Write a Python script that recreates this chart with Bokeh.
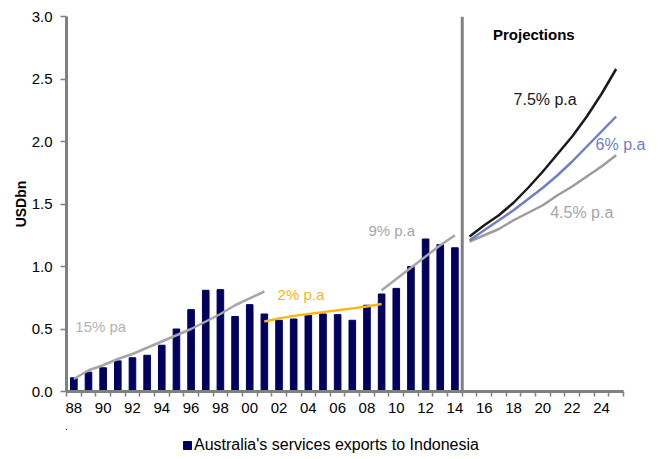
from bokeh.plotting import figure
from bokeh.layouts import column
from bokeh.models import (FixedTicker, NumeralTickFormatter, Span, Legend,
                          LegendItem, Label)
from bokeh.embed import file_html
from bokeh.resources import INLINE

# Australia's services exports to Indonesia, USD bn
years = list(range(1988, 2015))
exports = [0.11, 0.155, 0.19, 0.245, 0.27, 0.29, 0.37, 0.50, 0.655, 0.81,
           0.815, 0.60, 0.695, 0.62, 0.57, 0.58, 0.61, 0.62, 0.615, 0.57,
           0.69, 0.78, 0.825, 1.00, 1.22, 1.175, 1.15]

# Historical trend lines
trend15_years = list(range(1988, 2002))
trend15 = [0.10, 0.17, 0.21, 0.26, 0.30, 0.35, 0.40, 0.45, 0.50, 0.56,
           0.62, 0.69, 0.745, 0.80]
trend2_years = list(range(2001, 2010))
trend2 = [0.56, 0.585, 0.605, 0.62, 0.635, 0.65, 0.665, 0.68, 0.70]
trend9_years = list(range(2009, 2015))
trend9 = [0.81, 0.90, 0.99, 1.08, 1.17, 1.25]

# Projections
proj_years = list(range(2015, 2026))
proj_75 = [1.24, 1.33, 1.41, 1.51, 1.63, 1.76, 1.90, 2.04, 2.20, 2.38, 2.58]
proj_6 = [1.21, 1.29, 1.37, 1.45, 1.54, 1.63, 1.73, 1.84, 1.96, 2.08, 2.20]
proj_45 = [1.20, 1.25, 1.30, 1.37, 1.43, 1.49, 1.57, 1.64, 1.72, 1.80, 1.89]

# Tick labels
label_years = list(range(1988, 2025, 2))
tick_labels = [f"{y % 100:02d}" for y in label_years]

NAVY = "#00005E"
GREY_TREND = "#A6A6A6"
ORANGE = "#F9B614"
BLUE = "#6F7FC6"
BLACK = "#1A1A1A"
GREY_PROJ = "#9C9C9C"
AXIS_GREY = "#808080"
FONT = "Liberation Sans"

# Frame runs to the right edge so the end labels have room; the x axis
# itself stops at 2025.
p = figure(width=664, height=421, output_backend="svg", toolbar_location=None,
           x_range=(1987.5, 2028.3), y_range=(0, 3.0),
           min_border_left=66, min_border_right=0, min_border_top=16,
           min_border_bottom=30)
p.outline_line_color = None
p.xgrid.visible = False
p.ygrid.visible = False
p.background_fill_color = "white"
p.border_fill_color = "white"

bars = p.vbar(x=years, top=exports, width=0.45, fill_color=NAVY,
              line_color=NAVY)

p.line(trend15_years, trend15, line_color=GREY_TREND, line_width=2.5)
p.line(trend2_years, trend2, line_color=ORANGE, line_width=2.5)
p.line(trend9_years, trend9, line_color=GREY_TREND, line_width=2.5)

p.line(proj_years, proj_45, line_color=GREY_PROJ, line_width=2.5)
p.line(proj_years, proj_6, line_color=BLUE, line_width=2.5)
p.line(proj_years, proj_75, line_color=BLACK, line_width=2.5)

# Divider between history and projections
p.add_layout(Span(location=2014.5, dimension="height", line_color=AXIS_GREY,
                  line_width=3))

def note(x, y, txt, color, bold=False, size="15px"):
    p.add_layout(Label(x=x, y=y, text=txt, text_color=color,
                       text_align="left", text_baseline="middle",
                       text_font=FONT, text_font_size=size,
                       text_font_style="bold" if bold else "normal"))

note(1988.1, 0.52, "15% pa", "#B3B3B3")
note(2001.9, 0.776, "2% p.a", ORANGE)
note(2008.1, 1.29, "9% p.a", "#A6A6A6")
note(2018.0, 2.34, "7.5% p.a", BLACK, size="16px")
note(2023.6, 1.98, "6% p.a", BLUE, size="16px")
note(2020.5, 1.43, "4.5% p.a", "#A6A6A6", size="16px")
note(2016.6, 2.86, "Projections", "black", bold=True, size="15px")

# Axes
xa = p.xaxis[0]
xa.bounds = (1987.5, 2025.5)
xa.ticker = FixedTicker(ticks=label_years,
                        minor_ticks=[y - 0.5 for y in range(1988, 2027)])
xa.major_label_overrides = {y: t for y, t in zip(label_years, tick_labels)}
xa.major_tick_out = 0
xa.major_tick_in = 0
xa.minor_tick_out = 5
xa.minor_tick_in = 0
xa.minor_tick_line_color = AXIS_GREY
xa.minor_tick_line_width = 1.5
xa.axis_line_color = AXIS_GREY
xa.axis_line_width = 3
xa.major_label_text_font = FONT
xa.major_label_text_font_size = "15px"
xa.major_label_text_color = "black"
xa.major_label_standoff = 6

ya = p.yaxis[0]
ya.ticker = FixedTicker(ticks=[0, 0.5, 1.0, 1.5, 2.0, 2.5, 3.0])
ya.formatter = NumeralTickFormatter(format="0.0")
ya.minor_tick_line_color = None
ya.major_tick_out = 6
ya.major_tick_in = 0
ya.major_tick_line_color = AXIS_GREY
ya.major_tick_line_width = 1.5
ya.axis_line_color = AXIS_GREY
ya.axis_line_width = 3
ya.major_label_text_font = FONT
ya.major_label_text_font_size = "15px"
ya.major_label_text_color = "black"
ya.major_label_standoff = 8
ya.axis_label = "USDbn"
ya.axis_label_text_font = FONT
ya.axis_label_text_font_size = "14px"
ya.axis_label_text_font_style = "bold"
ya.axis_label_text_color = "black"
ya.axis_label_standoff = 0

# Legend strip under the chart: the same bar series, with its ranges set
# well away from the data, supplies the legend entry.
q = figure(width=664, height=38, output_backend="svg", toolbar_location=None,
           x_axis_type=None, y_axis_type=None, x_range=(3000, 3001),
           y_range=(-10, -9), min_border=0, min_border_top=8)
q.outline_line_color = None
q.border_fill_color = "white"
q.xgrid.visible = False
q.ygrid.visible = False
q_bars = q.vbar(x=years, top=exports, width=0.45, fill_color=NAVY,
                line_color=NAVY)
legend = Legend(items=[LegendItem(label="Australia's services exports to Indonesia",
                                  renderers=[q_bars])],
                location=(116, 5), orientation="horizontal",
                label_text_font=FONT, label_text_font_size="16px",
                label_text_color="black", glyph_width=10, glyph_height=10,
                label_standoff=2, border_line_color=None,
                background_fill_alpha=0, padding=0, margin=0)
q.add_layout(legend)

layout = column(p, q, spacing=0)
open("out.html", "w").write(file_html(layout, INLINE))
